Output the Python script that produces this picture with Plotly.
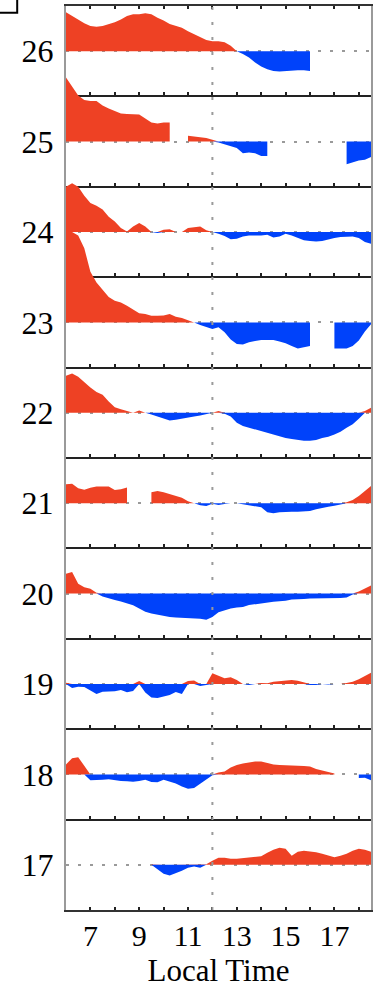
import plotly.graph_objects as go

# ---------------- data ----------------
HOURS = [6.0, 6.25, 6.5, 6.75, 7.0, 7.25, 7.5, 7.75, 8.0, 8.25, 8.5, 8.75,
         9.0, 9.25, 9.5, 9.75, 10.0, 10.25, 10.5, 10.75, 11.0, 11.25, 11.5, 11.75,
         12.0, 12.25, 12.5, 12.75, 13.0, 13.25, 13.5, 13.75, 14.0, 14.25, 14.5, 14.75,
         15.0, 15.25, 15.5, 15.75, 16.0, 16.25, 16.5, 16.75, 17.0, 17.25, 17.5, 17.75,
         18.0, 18.25, 18.5]

LEVELS = [26, 25, 24, 23, 22, 21, 20, 19, 18, 17]

N = None
ANOM_26 = [0.43, 0.39, 0.35, 0.31, 0.28, 0.27, 0.28, 0.30, 0.32, 0.35, 0.39, 0.41,
           0.41, 0.42, 0.41, 0.37, 0.34, 0.30, 0.28, 0.26, 0.22, 0.19, 0.16, 0.125,
           0.11, 0.11, 0.10, 0.06, 0.0, -0.03, -0.07, -0.125, -0.17, -0.20, -0.22, -0.225,
           -0.22, -0.21, -0.21, -0.21, -0.22, N, N, N, N, N, N, N,
           N, N, N]
ANOM_25 = [0.71, 0.61, 0.51, 0.46, 0.45, 0.45, 0.40, 0.365, 0.335, 0.31, 0.305, 0.305,
           0.30, 0.255, 0.21, 0.20, 0.21, 0.21, N, N, 0.066, 0.06, 0.05, 0.04,
           0.02, -0.01, -0.03, -0.05, -0.07, -0.13, -0.12, -0.13, -0.16, -0.16, N, N,
           N, N, N, N, N, N, N, N, N, N, -0.25, -0.23,
           -0.21, -0.20, -0.17]
ANOM_24 = [0.50, 0.54, 0.50, 0.40, 0.32, 0.29, 0.25, 0.17, 0.115, 0.045, 0.005, 0.06,
           0.10, 0.06, 0.0, -0.01, 0.025, 0.03, 0.0, 0.0, 0.045, 0.055, 0.06, 0.02,
           0.0, -0.02, -0.045, -0.08, -0.075, -0.05, -0.04, -0.04, -0.04, -0.03, -0.06, -0.05,
           -0.02, -0.04, -0.065, -0.09, -0.10, -0.105, -0.10, -0.08, -0.065, -0.055, -0.05, -0.05,
           -0.065, -0.11, -0.13]
ANOM_23 = [1.02, 1.0, 0.96, 0.82, 0.56, 0.44, 0.36, 0.28, 0.24, 0.22, 0.185, 0.145,
           0.10, 0.093, 0.074, 0.074, 0.077, 0.092, 0.063, 0.049, 0.022, 0.0, -0.03, -0.055,
           -0.073, -0.055, -0.11, -0.19, -0.24, -0.245, -0.22, -0.205, -0.195, -0.195, -0.195, -0.21,
           -0.23, -0.26, -0.29, -0.275, -0.26, N, N, N, -0.29, -0.29, -0.29, -0.26,
           -0.20, -0.10, -0.02]
ANOM_22 = [0.41, 0.435, 0.40, 0.335, 0.28, 0.23, 0.20, 0.125, 0.062, 0.039, 0.017, 0.0,
           0.025, 0.0, -0.02, -0.04, -0.06, -0.085, -0.077, -0.063, -0.05, -0.04, -0.03, -0.017,
           0.0, 0.02, -0.01, -0.04, -0.11, -0.145, -0.165, -0.18, -0.20, -0.22, -0.24, -0.265,
           -0.28, -0.29, -0.30, -0.31, -0.31, -0.30, -0.28, -0.265, -0.24, -0.21, -0.165, -0.127,
           -0.066, 0.02, 0.055]
ANOM_21 = [0.21, 0.215, 0.165, 0.15, 0.17, 0.185, 0.185, 0.185, 0.145, 0.155, 0.175, N,
           N, N, 0.12, 0.135, 0.12, 0.10, 0.077, 0.06, 0.022, 0.0, -0.024, -0.03,
           -0.005, -0.02, -0.01, 0.0, 0.0, -0.01, -0.02, -0.035, -0.045, -0.10, -0.11, -0.10,
           -0.095, -0.095, -0.095, -0.088, -0.085, -0.066, -0.05, -0.039, -0.028, -0.01, 0.01, 0.035,
           0.08, 0.135, 0.19]
ANOM_20 = [0.22, 0.24, 0.11, 0.07, 0.055, 0.01, -0.033, -0.055, -0.07, -0.088, -0.11, -0.13,
           -0.165, -0.20, -0.22, -0.235, -0.245, -0.26, -0.265, -0.268, -0.27, -0.273, -0.277, -0.288,
           -0.26, -0.205, -0.185, -0.166, -0.155, -0.148, -0.127, -0.116, -0.104, -0.096, -0.09, -0.085,
           -0.08, -0.066, -0.066, -0.06, -0.055, -0.055, -0.055, -0.055, -0.055, -0.05, -0.044, -0.01,
           0.022, 0.055, 0.09]
ANOM_19 = [0.015, -0.045, -0.03, -0.033, -0.072, -0.11, -0.085, -0.085, -0.08, -0.066, -0.09, -0.077,
           0.033, -0.094, -0.15, -0.155, -0.138, -0.122, -0.088, -0.11, 0.033, 0.04, -0.022, -0.01,
           0.118, 0.088, 0.063, 0.074, 0.044, 0.0, -0.01, 0.0, 0.01, 0.008, 0.025, 0.033,
           0.044, 0.044, 0.037, 0.017, -0.01, -0.01, 0.0, -0.005, 0.0, 0.0, 0.01, 0.025,
           0.052, 0.088, 0.125]
ANOM_18 = [0.11, 0.18, 0.19, 0.10, -0.066, -0.066, -0.059, -0.055, -0.066, -0.072, -0.077, -0.08,
           -0.072, -0.06, -0.083, -0.088, -0.06, -0.077, -0.10, -0.133, -0.16, -0.15, -0.105, -0.055,
           -0.01, 0.02, 0.033, 0.077, 0.105, 0.12, 0.13, 0.144, 0.144, 0.127, 0.11, 0.105,
           0.103, 0.103, 0.103, 0.094, 0.088, 0.061, 0.044, 0.029, 0.01, N, N, N,
           -0.04, -0.038, -0.066]
ANOM_17 = [N, N, N, N, N, N, N, N, N, N, N, N,
           N, N, 0.005, -0.055, -0.10, -0.118, -0.096, -0.066, -0.033, -0.02, -0.033, 0.005,
           0.044, 0.077, 0.077, 0.066, 0.066, 0.072, 0.08, 0.085, 0.094, 0.133, 0.166, 0.188,
           0.177, 0.10, 0.144, 0.155, 0.15, 0.138, 0.122, 0.10, 0.083, 0.10, 0.122, 0.155,
           0.177, 0.166, 0.144]

ANOMALIES = [ANOM_26, ANOM_25, ANOM_24, ANOM_23, ANOM_22,
             ANOM_21, ANOM_20, ANOM_19, ANOM_18, ANOM_17]

X_TICKS = [7, 9, 11, 13, 15, 17]
X_TITLE = "Local Time"

# ---------------- style ----------------
RED = "#EE4124"
BLUE = "#0042FA"
FONT = "Liberation Serif, DejaVu Serif, serif"


def polygons(t, vals, base, positive):
    """Closed polygons (one per contiguous segment) between baseline and data."""
    xs, ys = [], []
    seg = []

    def flush():
        if len(seg) > 1:
            sx = [p[0] for p in seg]
            sy = [base + p[1] for p in seg]
            xs.extend(sx + sx[::-1] + [None])
            ys.extend(sy + [base] * len(sx) + [None])
        seg.clear()

    for ti, vi in zip(t, vals):
        if vi is None:
            flush()
        else:
            seg.append((ti, max(vi, 0.0) if positive else min(vi, 0.0)))
    flush()
    return xs, ys


fig = go.Figure()

for lev, anom in zip(LEVELS, ANOMALIES):
    for positive, col in ((True, RED), (False, BLUE)):
        px_, py_ = polygons(HOURS, anom, lev, positive)
        fig.add_trace(go.Scatter(
            x=px_, y=py_, mode="lines", fill="toself", fillcolor=col,
            line=dict(color=col, width=0), hoverinfo="skip", showlegend=False))

# separator axes between the stacked rows (with hour ticks)
n_rows = len(LEVELS)
for k in range(1, n_rows):
    name = f"x{k + 1}"
    fig.add_trace(go.Scatter(x=[None], y=[None], xaxis=name, yaxis="y",
                             showlegend=False, hoverinfo="skip"))
    fig.layout[f"xaxis{k + 1}"] = dict(
        overlaying="x", anchor="free", position=k / n_rows, side="bottom",
        range=[6, 18.5], showline=True, linecolor="#222", linewidth=2,
        ticks="inside", ticklen=3, tickwidth=1.5, tickcolor="#222", dtick=1, tick0=6,
        showticklabels=False, showgrid=False, zeroline=False, layer="below traces")

fig.update_layout(
    width=374, height=988,
    margin=dict(l=66, r=1, t=6, b=78),
    paper_bgcolor="white", plot_bgcolor="white",
    showlegend=False,
    font=dict(family=FONT, color="black", size=30),
    xaxis=dict(
        range=[6, 18.5], tickmode="array", tickvals=X_TICKS,
        ticks="inside", ticklen=3, tickwidth=1.5, tickcolor="#222",
        minor=dict(dtick=1, tick0=6, ticks="inside", ticklen=3, tickwidth=1.5, tickcolor="#222"),
        showline=True, linecolor="#333", linewidth=2, mirror="ticks",
        showgrid=False, zeroline=False, ticklabelstandoff=-2,
        tickfont=dict(family=FONT, size=30, color="black"),
        title=dict(text=X_TITLE, font=dict(family=FONT, size=31, color="black"), standoff=10),
    ),
    yaxis=dict(
        range=[16.5, 26.5], tickmode="array", tickvals=LEVELS,
        ticks="", ticklabelstandoff=4,
        showline=True, linecolor="#9a9a9a", linewidth=2, mirror=True,
        showgrid=True, gridcolor="#9a9a9a", gridwidth=1.5, griddash="3px,9px",
        zeroline=False,
        tickfont=dict(family=FONT, size=32, color="black"),
    ),
    shapes=[
        dict(type="line", xref="x", yref="paper", x0=12, x1=12, y0=0, y1=1,
             line=dict(color="#9a9a9a", width=2, dash="3px,12px"), layer="above"),
        dict(type="rect", xref="paper", yref="paper", x0=-0.25, x1=-0.16, y0=0.9925, y1=1.03,
             line=dict(color="black", width=2), fillcolor="rgba(0,0,0,0)", layer="above"),
    ],
)

fig.write_html("out.html", config={"displayModeBar": False},
               post_script="document.body.style.margin='0';")
